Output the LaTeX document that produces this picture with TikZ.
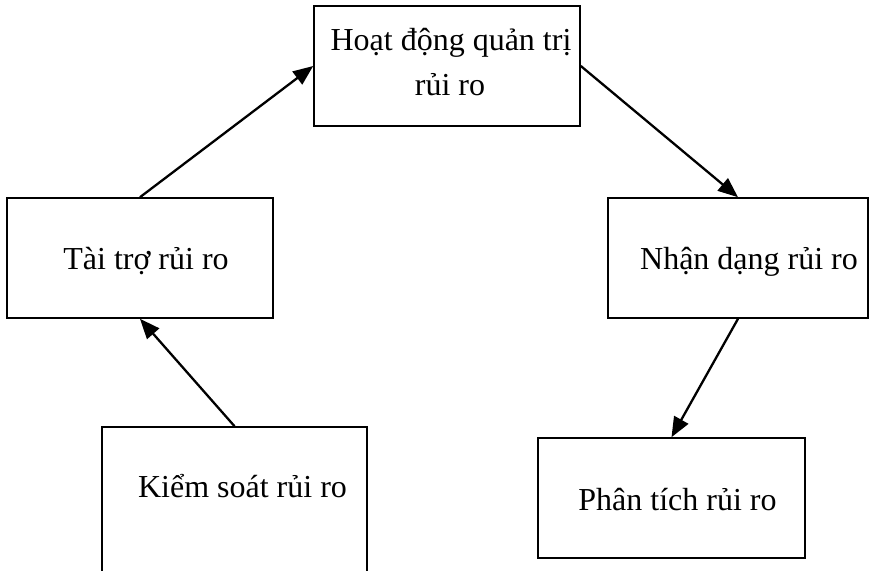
\documentclass[tikz,border=0pt]{standalone}
\usepackage{fontspec}
\setmainfont{Liberation Serif}
\usetikzlibrary{arrows.meta}
\begin{document}
\begin{tikzpicture}[x=1pt,y=-1pt,
  box/.style={draw=black,line width=1.6pt,fill=none,inner sep=0pt,rectangle},
  lbl/.style={anchor=base,inner sep=0pt,font=\fontsize{32}{39}\selectfont},
  flow/.style={line width=2.3pt,-{Triangle[length=20pt,width=16pt]}}]
\useasboundingbox (0,0) rectangle (872,570);
\clip (0,0) rectangle (872,570);
% boxes
\node[box,minimum width=266pt,minimum height=120pt] (top) at (447,66) {};
\node[box,minimum width=266pt,minimum height=120pt] (left) at (140,258) {};
\node[box,minimum width=260pt,minimum height=120pt] (right) at (738,258) {};
\node[box,minimum width=265pt,minimum height=183pt] (botL) at (234.5,518.5) {};
\node[box,minimum width=267pt,minimum height=120pt] (botR) at (671.5,498) {};
% labels
\node[lbl] (t1) at (451,50) {Hoạt động quản trị};
\node[lbl] (t2) at (450,95) {rủi ro};
\node[lbl] (tl) at (146,269) {Tài trợ rủi ro};
\node[lbl] (tr) at (749,269) {Nhận dạng rủi ro};
\node[lbl] (tbl) at (242.5,497) {Kiểm soát rủi ro};
\node[lbl] (tbr) at (677.5,510) {Phân tích rủi ro};
% cycle of arrows
\draw[flow] (left.north) -- (top.west);
\draw[flow] (top.east) -- (right.north);
\draw[flow] (right.south) -- (botR.north);
\draw[flow] (botL.north) -- (left.south);
\end{tikzpicture}
\end{document}
